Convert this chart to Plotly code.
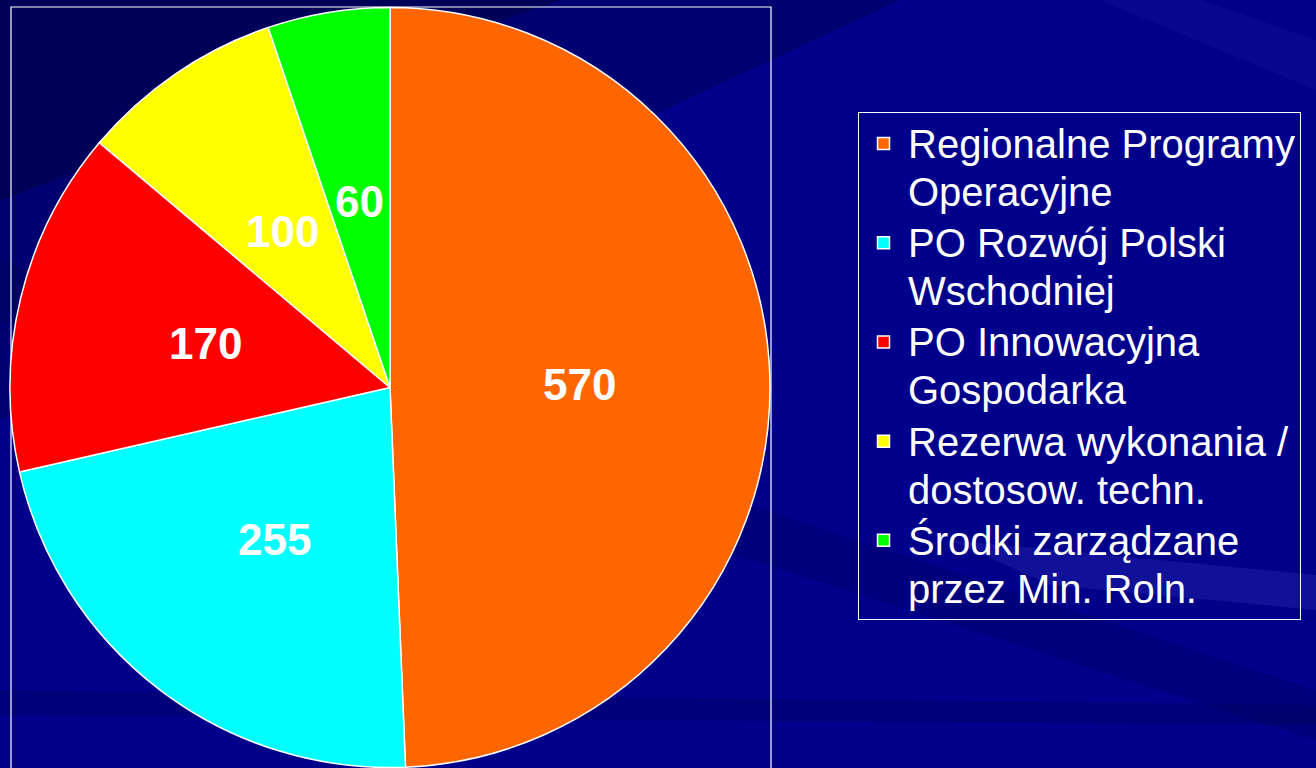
import math
import plotly.graph_objects as go

labels = [
    "Regionalne Programy<br>Operacyjne",
    "PO Rozwój Polski<br>Wschodniej",
    "PO Innowacyjna<br>Gospodarka",
    "Rezerwa wykonania /<br>dostosow. techn.",
    "Środki zarządzane<br>przez Min. Roln.",
]
values = [570, 255, 170, 100, 60]
colors = ["#FF6600", "#00FFFF", "#FF0000", "#FFFF00", "#00FF00"]

W, H = 1316, 768
BIG = 40  # glyph size of legend text


def legend_name(lbl):
    return "<br>".join(
        f'<span style="font-size:{BIG}px">{ln}</span>' for ln in lbl.split("<br>")
    )


names = [legend_name(l) for l in labels]

cx, cy, R = 390, 387.5, 380

fig = go.Figure(
    go.Pie(
        labels=names,
        values=values,
        sort=False,
        direction="clockwise",
        rotation=0,
        marker=dict(colors=colors, line=dict(color="white", width=1.5)),
        textinfo="none",
        domain=dict(
            x=[(cx - R) / W, (cx + R) / W],
            y=[(H - cy - R) / H, (H - cy + R) / H],
        ),
        hoverinfo="label+value",
    )
)

# value labels placed on each slice's bisector, derived from the data
total = sum(values)
annotations = []
cum = 0
for v in values:
    theta = 2 * math.pi * (cum + v / 2) / total
    cum += v
    r = 0.5 * R
    px = cx + r * math.sin(theta)
    py = cy - r * math.cos(theta) + 1
    annotations.append(
        dict(
            x=px / W, y=1 - py / H, xref="paper", yref="paper",
            text=str(v), showarrow=False,
            font=dict(family="Liberation Sans, Arial", size=44, color="white", weight="bold"),
            xanchor="center", yanchor="middle",
        )
    )


def band(points, color):
    path = "M " + " L ".join(f"{x / W},{1 - y / H}" for x, y in points) + " Z"
    return dict(type="path", xref="paper", yref="paper", path=path,
                fillcolor=color, line=dict(width=0), layer="below")


shapes = [
    band([(0, 0), (900, 0), (0, 420)], "rgba(0,0,40,0.25)"),
    band([(0, 0), (560, 0), (0, 200)], "rgba(0,0,30,0.3)"),
    band([(0, 260), (1316, 690), (1316, 740), (0, 320)], "rgba(0,0,50,0.15)"),
    band([(0, 690), (1316, 705), (1316, 725), (0, 715)], "rgba(0,0,50,0.18)"),
    band([(950, 540), (1316, 575), (1316, 610), (1050, 585)], "rgba(90,90,220,0.18)"),
    band([(1100, 0), (1316, 90), (1316, 40), (1200, 0)], "rgba(60,60,200,0.12)"),
    dict(
        type="rect", xref="paper", yref="paper",
        x0=11 / W, x1=771 / W, y0=-0.02, y1=1 - 7 / H,
        line=dict(color="white", width=1.2), fillcolor="rgba(0,0,0,0)",
        layer="below",
    ),
]

fig.update_layout(
    width=W,
    height=H,
    margin=dict(l=0, r=0, t=0, b=0),
    paper_bgcolor="#00008A",
    plot_bgcolor="#00008A",
    showlegend=True,
    legend=dict(
        x=858 / W,
        y=1 - 112 / H,
        xanchor="left",
        yanchor="top",
        bgcolor="rgba(0,0,0,0)",
        bordercolor="white",
        borderwidth=1,
        font=dict(family="Liberation Sans, Arial", size=37, color="white"),
        valign="top",
        itemwidth=39,
    ),
    annotations=annotations,
    shapes=shapes,
)

fig.write_html(
    "out.html",
    config={"displayModeBar": False},
    post_script="document.body.style.margin='0';document.body.style.overflow='hidden';",
)
